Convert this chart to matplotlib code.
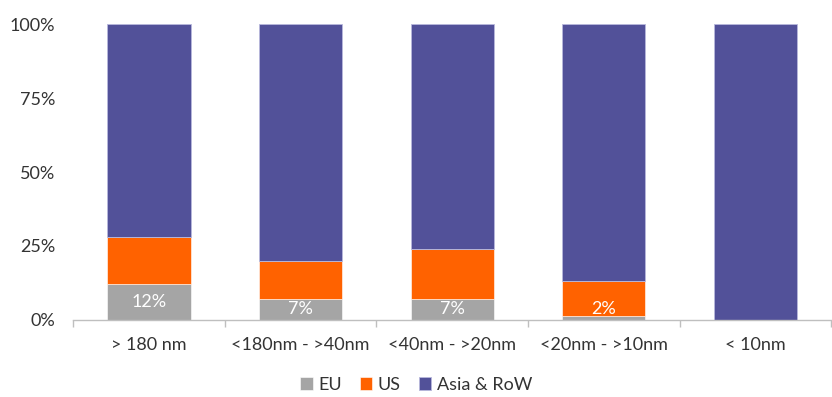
import numpy as np
import matplotlib.pyplot as plt

categories = ['> 180 nm', '<180nm - >40nm', '<40nm - >20nm', '<20nm - >10nm', '< 10nm']
eu = np.array([12, 7, 7, 1.5, 0])
us = np.array([16, 13, 17, 11.7, 0])
asia = 100 - eu - us
eu_labels = ['12%', '7%', '7%', '2%', '']

plt.rcParams['font.family'] = ['Lato', 'DejaVu Sans']

fig = plt.figure(figsize=(8.32, 3.97), dpi=100)
ax = fig.add_axes([0.088, 0.194, 0.911, 0.7455])

x = np.arange(len(categories))
w = 0.55
ax.bar(x, eu, w, color='#A5A5A5', label='EU', edgecolor='white', linewidth=0.4)
ax.bar(x, us, w, bottom=eu, color='#FF6200', label='US', edgecolor='white', linewidth=0.4)
ax.bar(x, asia, w, bottom=eu + us, color='#525199', label='Asia & RoW', edgecolor='#b8b8dc', linewidth=0.6)

# data labels for EU share
for xi, v, lab in zip(x, eu, eu_labels):
    if lab:
        ax.text(xi, max(v / 2, 3.6), lab, ha='center', va='center', color='white', fontsize=13)

ax.set_xlim(-0.5, len(categories) - 0.5)
ax.set_ylim(0, 100)
ax.set_yticks([0, 25, 50, 75, 100])
ax.set_yticklabels(['0%', '25%', '50%', '75%', '100%'])

ax.set_xticks(np.arange(-0.5, len(categories), 1))
ax.set_xticklabels([])
ax.set_xticks(x, minor=True)
ax.set_xticklabels(categories, minor=True)
ax.tick_params(axis='x', which='major', length=5, color='#BFBFBF', width=1)
ax.tick_params(axis='x', which='minor', length=0, pad=12, labelsize=13, labelcolor='#333333')
ax.tick_params(axis='y', length=0, pad=13, labelsize=13, labelcolor='#333333')

for s in ['top', 'right', 'left']:
    ax.spines[s].set_visible(False)
ax.spines['bottom'].set_color('#BFBFBF')
ax.spines['bottom'].set_linewidth(1)

fig.legend(loc='lower center', bbox_to_anchor=(0.5, -0.03), ncol=3, frameon=False,
           handlelength=0.7, handleheight=0.7, handletextpad=0.3, columnspacing=1.0,
           fontsize=13, labelcolor='#333333')

fig.savefig('out.png', dpi=100)
